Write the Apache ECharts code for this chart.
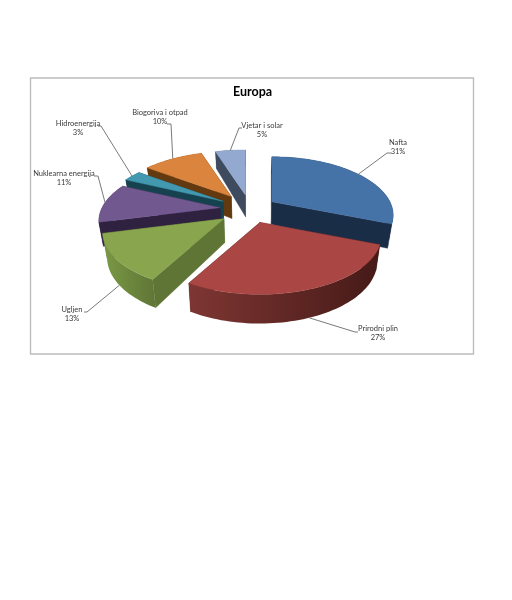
<!DOCTYPE html>
<html><head><meta charset="utf-8">
<style>html,body{margin:0;padding:0;background:#fff}#c{width:512px;height:600px}</style>
<script src="https://cdn.jsdelivr.net/npm/echarts@6/dist/echarts.min.js"></script>
</head><body><div id="c"></div>
<script>
const categories = ['Nafta','Prirodni plin','Ugljen','Nuklearna energija','Hidroenergija','Biogoriva i otpad','Vjetar i solar'];
const shares = [31,27,13,11,3,10,5];
const titleText = 'Europa';

// style + layout, apart from the data
const explode = [0.225,0.25,0.28,0.255,0.266,0.27,0.25];
const topColors = ['#4572A7','#AA4643','#89A54E','#71588F','#4198AF','#DB843D','#93A9CF'];
const edgeColors = ['#1A2D47','#451A17','#5F7536','#2F2140','#16424F','#63390F','#3E4A5E'];
const rimColors = [['#1A2D47','#1A2D47'],['#7E3633','#451A17'],['#7A9A45','#5F7536'],['#2F2140','#2F2140'],['#16424F','#16424F'],['#63390F','#63390F'],['#3E4A5E','#3E4A5E']];
const labelElbows = [[387,153,391,153],[355,332,358,332],[87,312,84,312],[98,176,94,176],[101,126,98,126],[171,124,167,124],[239,128,242,128]];
const labelCentres = [[398,147],[378,333.5],[72,314.5],[64,178.5],[78,128],[160,117.5],[262,130.5]];
const pieCx=250, pieCy=209, R=118, K=55.4, P=0.23, SHRINK=0.97;

const total = shares.reduce((a,b)=>a+b,0);
const slices=[]; let acc=0;
shares.forEach((v,i)=>{const a0=acc/total*2*Math.PI; acc+=v; const a1=acc/total*2*Math.PI; slices.push({a0,a1,mid:(a0+a1)/2,i});});
function tip(s){const e=explode[s.i];return [pieCx+e*Math.sin(s.mid)*R, pieCy-e*Math.cos(s.mid)*57, -e*Math.cos(s.mid)];}
function rim(s,a){const t=tip(s);const X=Math.sin(a),Y=-Math.cos(a);const d=1/(1-P*Y);return [t[0]+X*R*d,t[1]+Y*K*d,t[2]+Y];}
function wallH(yAbs){return 23+5*yAbs;}
function down(p){return [pieCx+(p[0]-pieCx)*SHRINK,p[1]+wallH(p[2])];}
const xy=p=>[p[0],p[1]];
const order = slices.slice().sort((a,b)=>tip(a)[2]-tip(b)[2]).map(s=>s.i);

function renderSlice(params,api){
  const s=slices[api.value(0)], i=s.i, t=tip(s), n=Math.max(4,Math.ceil((s.a1-s.a0)/0.03));
  const arc=[]; for(let k=0;k<=n;k++) arc.push(rim(s,s.a0+(s.a1-s.a0)*k/n));
  const children=[];
  const wall=(p,q,fill)=>children.push({type:'polygon',shape:{points:[xy(p),xy(q),down(q),down(p)]},style:{fill,stroke:fill,lineWidth:0.4}});
  wall(t,arc[0],edgeColors[i]);
  wall(t,arc[n],edgeColors[i]);
  const rimPts=arc.map(xy).concat(arc.slice().reverse().map(down));
  children.push({type:'polygon',shape:{points:rimPts},style:{
    fill:new echarts.graphic.LinearGradient(0,0,1,0,[{offset:0,color:rimColors[i][0]},{offset:1,color:rimColors[i][1]}]),lineWidth:0}});
  children.push({type:'polygon',shape:{points:[xy(t)].concat(arc.map(xy))},style:{fill:topColors[i],stroke:topColors[i],lineWidth:0.4}});
  return {type:'group',children};
}
function renderLabel(params,api){
  const i=api.value(0), s=slices[i], p=rim(s,s.mid), start=Math.cos(s.mid)<0?down(p):xy(p), el=labelElbows[i], c=labelCentres[i];
  const txt=(text,y)=>({type:'text',style:{x:c[0],y,text,align:'center',verticalAlign:'middle',fill:'#3a3a3a',font:'7.5px Lato'}});
  return {type:'group',children:[
    {type:'polyline',shape:{points:[start,[el[0],el[1]],[el[2],el[3]]]},style:{stroke:'#7a7a7a',lineWidth:1,fill:null}},
    txt(categories[i],c[1]-4.5),
    txt(api.value(1)+'%',c[1]+4.5)
  ]};
}
const chart=echarts.init(document.getElementById('c'),null,{renderer:'canvas'});
chart.setOption({
  animation:false,backgroundColor:'#fff',
  title:{text:titleText,left:228,top:80,textStyle:{fontFamily:'Lato',fontWeight:'bold',fontSize:12.5,color:'#000'}},
  graphic:[{type:'rect',z:-1,shape:{x:30.5,y:78,width:443,height:276},style:{fill:'#fff',stroke:'#bdbdbd',lineWidth:1.4}}],
  series:[
    {type:'custom',coordinateSystem:'none',renderItem:renderSlice,data:order.map(i=>[i]),silent:true},
    {type:'custom',coordinateSystem:'none',renderItem:renderLabel,data:shares.map((v,i)=>[i,v]),silent:true,z:5}
  ]
});
</script></body></html>
